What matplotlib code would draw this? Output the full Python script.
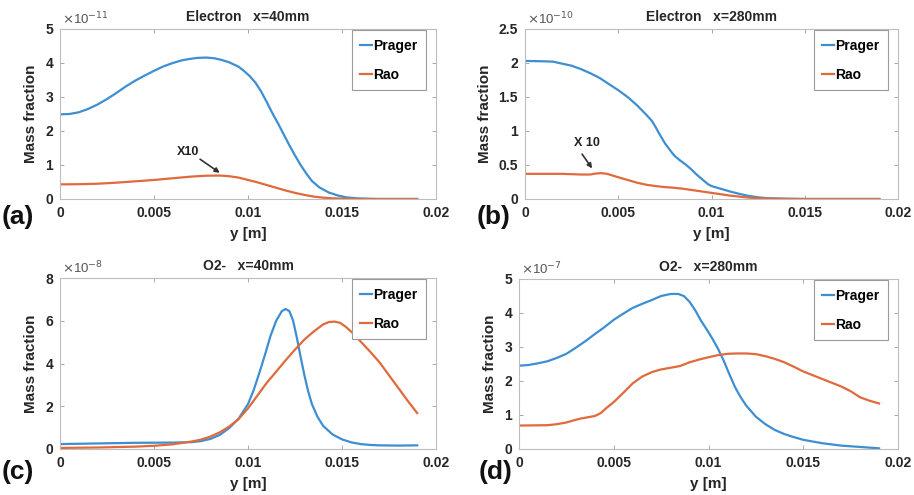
import matplotlib
matplotlib.use("Agg")
import matplotlib.pyplot as plt

plt.rcParams["font.family"] = ["Liberation Sans", "DejaVu Sans"]

BLUE = "#3d8fd1"
ORANGE = "#e06a3c"

# (a) Electron, x=40mm  (values in 1e-11)
a_prager_y = [0, 0.0005, 0.001, 0.0015, 0.002, 0.0025, 0.003, 0.0035, 0.004, 0.0045, 0.005,
              0.0055, 0.006, 0.0065, 0.0069, 0.0073, 0.0078, 0.0082, 0.0086, 0.009, 0.0095,
              0.0098, 0.0101, 0.0104, 0.0107, 0.011, 0.0113, 0.0116, 0.0119, 0.0122, 0.0125,
              0.0128, 0.0131, 0.0134, 0.0138, 0.0143, 0.0148, 0.0152, 0.0158, 0.0165, 0.017,
              0.019]
a_prager_v = [2.49, 2.50, 2.55, 2.65, 2.78, 2.94, 3.12, 3.31, 3.48, 3.63, 3.77,
              3.90, 4.00, 4.08, 4.12, 4.15, 4.16, 4.14, 4.09, 4.02, 3.89,
              3.76, 3.61, 3.42, 3.16, 2.85, 2.52, 2.22, 1.90, 1.58, 1.28,
              1.00, 0.75, 0.53, 0.34, 0.19, 0.10, 0.05, 0.02, 0.005, 0.0,
              0.0]
a_rao_y = [0, 0.001, 0.002, 0.003, 0.004, 0.005, 0.006, 0.007, 0.0078, 0.0085, 0.009, 0.0095,
           0.01, 0.0105, 0.011, 0.0115, 0.012, 0.0125, 0.013, 0.0135, 0.014, 0.0145, 0.015,
           0.016, 0.019]
a_rao_v = [0.43, 0.435, 0.45, 0.48, 0.52, 0.56, 0.61, 0.66, 0.685, 0.69, 0.67, 0.63,
           0.56, 0.49, 0.41, 0.33, 0.25, 0.18, 0.12, 0.07, 0.04, 0.02, 0.01,
           0.0, 0.0]

# (b) Electron, x=280mm  (values in 1e-10)
b_prager_y = [0, 0.001, 0.0015, 0.002, 0.0025, 0.003, 0.0035, 0.004, 0.0045, 0.005, 0.0055,
              0.006, 0.0065, 0.0068, 0.007, 0.0072, 0.0075, 0.0078, 0.008, 0.0083, 0.0086,
              0.0089, 0.0092, 0.0095, 0.0098, 0.01, 0.0105, 0.011, 0.0115, 0.012, 0.0125,
              0.013, 0.014, 0.015, 0.019]
b_prager_v = [2.03, 2.025, 2.02, 1.99, 1.96, 1.91, 1.85, 1.78, 1.69, 1.60, 1.50,
              1.38, 1.24, 1.15, 1.06, 0.96, 0.82, 0.71, 0.64, 0.57, 0.51,
              0.44, 0.36, 0.29, 0.22, 0.19, 0.15, 0.11, 0.075, 0.045, 0.025,
              0.012, 0.004, 0.0, 0.0]
b_rao_y = [0, 0.001, 0.002, 0.003, 0.0035, 0.0038, 0.0041, 0.0044, 0.0047, 0.005, 0.0055,
           0.006, 0.0065, 0.007, 0.0075, 0.008, 0.0085, 0.009, 0.0095, 0.01, 0.0105, 0.011,
           0.0115, 0.012, 0.0125, 0.013, 0.014, 0.015, 0.019]
b_rao_v = [0.37, 0.37, 0.37, 0.36, 0.36, 0.375, 0.38, 0.37, 0.345, 0.32, 0.28,
           0.24, 0.21, 0.19, 0.175, 0.165, 0.15, 0.13, 0.11, 0.09, 0.07, 0.05,
           0.035, 0.02, 0.012, 0.006, 0.002, 0.0, 0.0]

# (c) O2-, x=40mm  (values in 1e-8)
c_prager_y = [0, 0.002, 0.004, 0.006, 0.007, 0.0075, 0.008, 0.0085, 0.009, 0.0095, 0.01,
              0.0103, 0.0106, 0.0109, 0.0112, 0.0115, 0.0118, 0.012, 0.0122, 0.0124, 0.0126,
              0.0128, 0.013, 0.0132, 0.0134, 0.0137, 0.014, 0.0145, 0.015, 0.0155, 0.016,
              0.0165, 0.017, 0.018, 0.019]
c_prager_v = [0.23, 0.26, 0.29, 0.30, 0.32, 0.37, 0.47, 0.66, 0.98, 1.42, 2.10,
              2.75, 3.55, 4.40, 5.30, 6.00, 6.45, 6.55, 6.45, 6.00, 5.20,
              4.30, 3.45, 2.70, 2.10, 1.50, 1.08, 0.68, 0.45, 0.31, 0.23,
              0.19, 0.17, 0.16, 0.17]
c_rao_y = [0, 0.002, 0.004, 0.005, 0.006, 0.007, 0.0075, 0.008, 0.0085, 0.009, 0.0095, 0.01,
           0.0105, 0.011, 0.0115, 0.012, 0.0125, 0.013, 0.0135, 0.014, 0.0143, 0.0146,
           0.0149, 0.0152, 0.0156, 0.016, 0.0165, 0.017, 0.0175, 0.018, 0.0185, 0.019]
c_rao_v = [0.05, 0.07, 0.11, 0.15, 0.22, 0.35, 0.44, 0.58, 0.78, 1.05, 1.40, 1.90,
           2.50, 3.10, 3.62, 4.15, 4.65, 5.12, 5.50, 5.83, 5.94, 5.96,
           5.90, 5.72, 5.40, 5.02, 4.55, 4.05, 3.45, 2.85, 2.25, 1.68]

# (d) O2-, x=280mm  (values in 1e-7)
d_prager_y = [0, 0.0005, 0.001, 0.0015, 0.002, 0.0025, 0.003, 0.0035, 0.004, 0.0045, 0.005,
              0.0055, 0.006, 0.0065, 0.007, 0.0075, 0.008, 0.0084, 0.0087, 0.009, 0.0093,
              0.0096, 0.0099, 0.0102, 0.0105, 0.0108, 0.0111, 0.0114, 0.0117, 0.012, 0.0125,
              0.013, 0.0135, 0.014, 0.0145, 0.015, 0.016, 0.017, 0.018, 0.019]
d_prager_v = [2.45, 2.47, 2.52, 2.58, 2.68, 2.80, 2.98, 3.17, 3.38, 3.58, 3.80,
              3.98, 4.15, 4.27, 4.38, 4.50, 4.56, 4.56, 4.50, 4.33, 4.08,
              3.78, 3.52, 3.25, 2.95, 2.60, 2.20, 1.82, 1.52, 1.27, 0.95,
              0.73, 0.56, 0.44, 0.35, 0.27, 0.17, 0.10, 0.06, 0.02]
d_rao_y = [0, 0.0015, 0.002, 0.0025, 0.003, 0.0033, 0.0036, 0.004, 0.0043, 0.0046, 0.005,
           0.0055, 0.006, 0.0065, 0.007, 0.0075, 0.008, 0.0085, 0.009, 0.0095, 0.01, 0.0105,
           0.011, 0.0115, 0.012, 0.0125, 0.013, 0.0135, 0.014, 0.0145, 0.015, 0.0155, 0.016,
           0.0165, 0.017, 0.0175, 0.018, 0.0185, 0.019]
d_rao_v = [0.69, 0.70, 0.73, 0.78, 0.86, 0.90, 0.93, 0.97, 1.05, 1.20, 1.38,
           1.65, 1.93, 2.13, 2.26, 2.34, 2.39, 2.44, 2.55, 2.63, 2.70, 2.76,
           2.80, 2.81, 2.81, 2.79, 2.73, 2.65, 2.55, 2.42, 2.28, 2.17, 2.06,
           1.95, 1.84, 1.70, 1.52, 1.42, 1.34]

x_ticks = [0, 0.005, 0.01, 0.015, 0.02]
x_tick_labels = ["0", "0.005", "0.01", "0.015", "0.02"]

panels = [
    # letter, title, exponent, yticks, yticklabels, prager, rao,
    # axes box in pixels (left, top, right, bottom), letter position in pixels
    ("(a)", "Electron   x=40mm", "-11", [0, 1, 2, 3, 4, 5], ["0", "1", "2", "3", "4", "5"],
     (a_prager_y, a_prager_v), (a_rao_y, a_rao_v), (60, 29, 436, 199), (2, 217)),
    ("(b)", "Electron   x=280mm", "-10", [0, 0.5, 1, 1.5, 2, 2.5], ["0", "0.5", "1", "1.5", "2", "2.5"],
     (b_prager_y, b_prager_v), (b_rao_y, b_rao_v), (525, 29, 898, 199), (477, 217)),
    ("(c)", "O2-   x=40mm", "-8", [0, 2, 4, 6, 8], ["0", "2", "4", "6", "8"],
     (c_prager_y, c_prager_v), (c_rao_y, c_rao_v), (60, 278, 436, 449), (2, 472)),
    ("(d)", "O2-   x=280mm", "-7", [0, 1, 2, 3, 4, 5], ["0", "1", "2", "3", "4", "5"],
     (d_prager_y, d_prager_v), (d_rao_y, d_rao_v), (519, 279, 898, 449), (479, 472)),
]

W, H = 914, 495
fig = plt.figure(figsize=(W / 100, H / 100), dpi=100)
axes = []
for letter, title, expo, yt, ytl, prager, rao, box, lpos in panels:
    l, t, r, b = box
    ax = fig.add_axes([l / W, 1 - b / H, (r - l) / W, (b - t) / H])
    axes.append(ax)
    ax.plot(prager[0], prager[1], color=BLUE, lw=1.6, label="Prager")
    ax.plot(rao[0], rao[1], color=ORANGE, lw=1.6, label="Rao")
    ax.set_xlim(0, 0.02)
    ax.set_ylim(yt[0], yt[-1])
    ax.set_xticks(x_ticks)
    ax.set_xticklabels(x_tick_labels)
    ax.set_yticks(yt)
    ax.set_yticklabels(ytl)
    ax.tick_params(direction="in", length=3, width=0.6, color="#999999", top=True, right=True,
                   labelsize=10, labelcolor="#262626", pad=5)
    for lab in ax.get_xticklabels() + ax.get_yticklabels():
        lab.set_fontweight("bold")
    for sp in ax.spines.values():
        sp.set_color("#bdbdbd")
        sp.set_linewidth(0.8)
    ax.set_title(title, fontsize=10, fontweight="bold", color="#262626", pad=6)
    ax.set_xlabel("y [m]", fontsize=11, fontweight="bold", color="#262626", labelpad=5)
    ax.set_ylabel("Mass fraction", fontsize=11, fontweight="bold", color="#262626", labelpad=5)
    ax.text(0.005, 1.01, r"$\times$10$^{%s}$" % expo, transform=ax.transAxes,
            fontsize=9.5, color="#555555", ha="left", va="bottom")
    leg = ax.legend(loc="upper right", bbox_to_anchor=(1 - 9 / (r - l), 1.0), borderaxespad=0.1,
                    fancybox=False, framealpha=1, edgecolor="#9a9a9a", handlelength=0.85,
                    handletextpad=0.1, labelspacing=1.1, borderpad=0.6,
                    prop={"weight": "bold", "size": 10})
    leg.get_frame().set_linewidth(0.8)
    fig.text(lpos[0] / W, 1 - lpos[1] / H, letter, fontsize=19, fontweight="bold",
             ha="left", va="center", color="#111111")

# "X10" annotations on the Rao curves
arrow_style = dict(arrowstyle="-|>", color="#333333", lw=1.2, mutation_scale=7,
                   shrinkA=0, shrinkB=0)
axes[0].text(0.0068, 1.38, "X10", fontsize=9, fontweight="bold", ha="center", va="center",
             color="#222222")
axes[0].annotate("", xy=(0.0085, 0.77), xytext=(0.00745, 1.17), arrowprops=arrow_style)
axes[1].text(0.0033, 0.82, "X 10", fontsize=9, fontweight="bold", ha="center", va="center",
             color="#222222")
axes[1].annotate("", xy=(0.0036, 0.45), xytext=(0.00306, 0.66), arrowprops=arrow_style)

fig.savefig("out.png", dpi=100)
